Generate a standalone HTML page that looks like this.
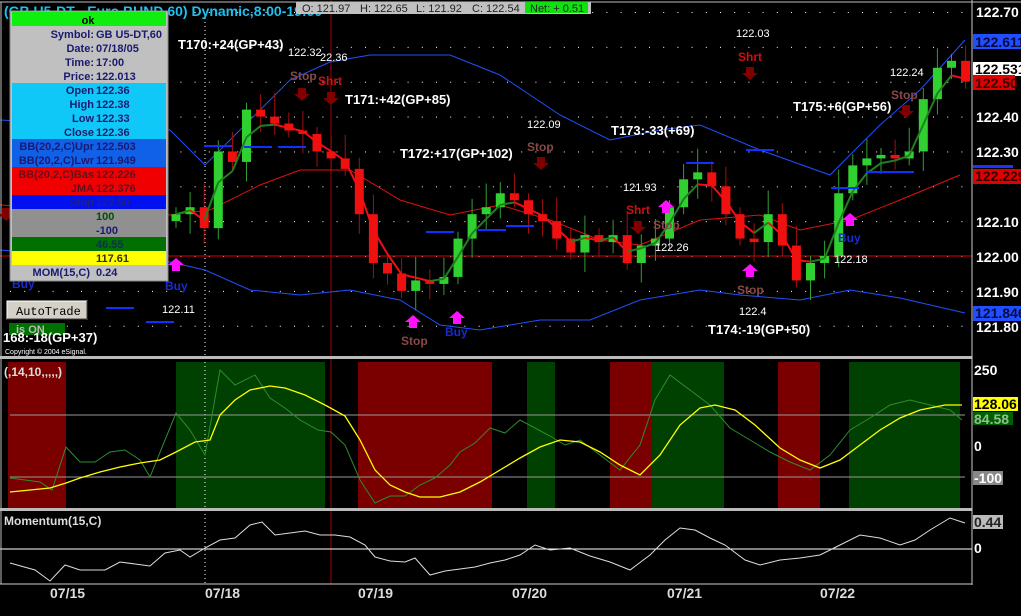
<!DOCTYPE html>
<html><head><meta charset="utf-8"><style>
html,body{margin:0;padding:0;background:#000;width:1021px;height:616px;overflow:hidden;font-family:"Liberation Sans",sans-serif}
svg{display:block}
.ax{fill:#fff;font:bold 14px "Liberation Sans",sans-serif}
.t{fill:#fff;font:bold 13px "Liberation Sans",sans-serif}
.s{fill:#fff;font:11px "Liberation Sans",sans-serif}
.ip{font:bold 11px "Liberation Sans",sans-serif;fill:#1a1a70}
</style></head><body>
<svg id="c" width="1021" height="616" viewBox="0 0 1021 616" xmlns="http://www.w3.org/2000/svg">
<rect width="1021" height="616" fill="#000"/>
<g id="grid"></g>
<g>
<rect x="8" y="362" width="58" height="146" fill="#7a0000"/>
<rect x="176" y="362" width="149" height="146" fill="#004000"/>
<rect x="358" y="362" width="134" height="146" fill="#7a0000"/>
<rect x="527" y="362" width="28" height="146" fill="#004000"/>
<rect x="610" y="362" width="42" height="146" fill="#7a0000"/>
<rect x="652" y="362" width="72" height="146" fill="#004000"/>
<rect x="778" y="362" width="42" height="146" fill="#7a0000"/>
<rect x="849" y="362" width="111" height="146" fill="#004000"/>
</g>
<line x1="0" y1="256" x2="972" y2="256" stroke="#e00000" stroke-width="1"/>
<line x1="331" y1="0" x2="331" y2="584" stroke="#a00000" stroke-width="1"/>
<line x1="205" y1="14" x2="205" y2="584" stroke="#fff" stroke-dasharray="1,3"/>
<line x1="10" y1="415" x2="965" y2="415" stroke="#999"/>
<line x1="10" y1="477" x2="965" y2="477" stroke="#999"/>
<line x1="0" y1="549" x2="972" y2="549" stroke="#fff"/>
<polyline fill="none" stroke="#2050ff" stroke-width="1" points="0,120 100,125 170,130 205,165 250,120 290,80 330,62 370,55 450,55 500,75 560,115 610,140 660,130 700,125 760,150 830,175 880,125 920,90 965,40"/>
<polyline fill="none" stroke="#2050ff" stroke-width="1" points="0,250 100,258 170,262 205,270 250,290 300,295 350,290 400,300 440,325 480,330 540,320 590,320 640,300 700,290 740,295 800,300 850,290 900,298 965,313"/>
<polyline fill="none" stroke="#e01010" stroke-width="1" points="0,205 100,210 170,215 210,210 260,185 300,170 350,170 400,200 450,215 500,205 550,220 600,240 640,245 700,220 760,215 800,230 850,220 900,200 960,175"/>
<g id="cand"></g>
<polyline fill="none" stroke="#2e8b2e" stroke-width="1" points="10,478 40,482 52,490 66,447 80,462 95,462 110,452 125,450 140,460 150,477 165,440 176,413 190,430 205,455 220,370 235,385 255,375 270,398 285,408 300,420 318,430 331,432 345,445 360,480 375,503 390,496 405,496 420,485 435,478 450,465 460,452 475,443 490,428 505,433 520,420 535,428 550,436 565,445 580,440 600,455 620,470 640,445 655,400 670,375 690,390 710,405 730,428 750,440 770,452 790,462 810,470 830,455 850,430 870,418 890,405 910,400 930,405 950,410 962,420"/>
<polyline fill="none" stroke="#ffff00" stroke-width="1.3" points="10,492 30,490 50,488 66,483 80,478 100,472 120,467 140,463 160,460 176,452 195,442 210,440 220,415 235,400 250,390 270,386 285,388 305,395 325,405 345,416 360,440 375,470 390,485 405,492 420,497 440,497 460,492 480,482 500,470 520,458 540,447 560,440 580,442 600,452 620,465 640,475 660,455 680,425 700,408 715,405 735,410 755,425 780,448 800,460 820,468 840,460 860,445 880,430 900,418 920,410 945,405 962,405"/>
<polyline fill="none" stroke="#ddd" stroke-width="1" points="10,563 35,570 50,581 65,565 80,570 105,570 120,562 135,564 150,566 165,553 180,550 190,557 205,548 220,540 235,538 250,525 262,522 275,535 290,533 305,531 320,535 335,535 350,537 365,545 375,557 390,561 405,562 415,558 430,575 445,571 460,569 475,567 490,563 505,560 520,555 535,545 550,550 570,548 590,556 610,562 630,570 650,555 665,540 680,528 695,530 710,538 725,545 745,560 760,565 780,560 800,558 820,555 840,545 860,535 880,538 900,545 915,540 930,530 950,518 965,523"/>
<rect x="0" y="356" width="972" height="3" fill="#bbb"/>
<rect x="0" y="508" width="972" height="3" fill="#bbb"/>
<line x1="972" y1="0" x2="972" y2="585" stroke="#ccc"/>
<line x1="0" y1="584" x2="972" y2="584" stroke="#ccc"/>
<line x1="0" y1="2" x2="1021" y2="2" stroke="#bbb"/>
<line x1="1" y1="2" x2="1" y2="584" stroke="#bbb"/>
<text class="ax" x="976" y="17">122.70</text>
<rect x="973" y="34" width="48" height="15" fill="#1f4fff"/><text class="ax" x="975" y="47" style="fill:#0a0a40">122.611</text>
<rect x="973" y="62" width="48" height="14" fill="#fff"/><text class="ax" x="975" y="74" style="fill:#000">122.531</text>
<rect x="973" y="75" width="42" height="15" fill="#e00000"/><text class="ax" x="975" y="88" style="fill:#300">122.50</text>
<text class="ax" x="976" y="122">122.40</text>
<text class="ax" x="976" y="157">122.30</text>
<rect x="973" y="165" width="40" height="3" fill="#2030ff"/>
<rect x="973" y="169" width="48" height="15" fill="#e00000"/><text class="ax" x="975" y="181" style="fill:#300">122.229</text>
<text class="ax" x="976" y="227">122.10</text>
<text class="ax" x="976" y="262">122.00</text>
<text class="ax" x="976" y="297">121.90</text>
<rect x="973" y="306" width="48" height="15" fill="#1f4fff"/><text class="ax" x="975" y="318" style="fill:#0a0a40">121.846</text>
<text class="ax" x="976" y="332">121.80</text>
<text class="ax" x="974" y="375">250</text>
<rect x="973" y="397" width="45" height="14" fill="#ffff00"/><text class="ax" x="974" y="409" style="fill:#000">128.06</text>
<rect x="973" y="412" width="40" height="13" fill="#006000"/><text class="ax" x="974" y="424" style="fill:#8fbf8f">84.58</text>
<text class="ax" x="974" y="451">0</text>
<rect x="973" y="471" width="30" height="14" fill="#888"/><text class="ax" x="974" y="483">-100</text>
<rect x="973" y="515" width="30" height="14" fill="#bbb"/><text class="ax" x="974" y="527" style="fill:#222">0.44</text>
<text class="ax" x="974" y="553">0</text>
<text class="ax" x="50" y="598" style="fill:#ddd">07/15</text>
<text class="ax" x="205" y="598" style="fill:#ddd">07/18</text>
<text class="ax" x="358" y="598" style="fill:#ddd">07/19</text>
<text class="ax" x="512" y="598" style="fill:#ddd">07/20</text>
<text class="ax" x="667" y="598" style="fill:#ddd">07/21</text>
<text class="ax" x="820" y="598" style="fill:#ddd">07/22</text>
<text x="4" y="16" style="fill:#20c0f0;font:bold 14px 'Liberation Sans',sans-serif">(GB U5-DT - Euro BUND,60) Dynamic,8:00-19:00</text>
<rect x="296" y="2" width="295" height="12" fill="#c0c0c0"/>
<rect x="525" y="2" width="63" height="11" fill="#10e010"/>
<text x="302" y="12" style="fill:#222;font:11px 'Liberation Sans',sans-serif">O: 121.97</text>
<text x="360" y="12" style="fill:#222;font:11px 'Liberation Sans',sans-serif">H: 122.65</text>
<text x="416" y="12" style="fill:#222;font:11px 'Liberation Sans',sans-serif">L: 121.92</text>
<text x="472" y="12" style="fill:#222;font:11px 'Liberation Sans',sans-serif">C: 122.54</text>
<text x="530" y="12" style="fill:#222;font:11px 'Liberation Sans',sans-serif">Net: + 0.51</text>
<text class="t" x="178" y="49">T170:+24(GP+43)</text>
<text class="s" x="288" y="56">122.32</text><text class="s" x="320" y="61">22.36</text>
<text class="t" x="345" y="104">T171:+42(GP+85)</text>
<text class="s" x="527" y="128">122.09</text>
<text class="t" x="400" y="158">T172:+17(GP+102)</text>
<text class="t" x="611" y="135">T173:-33(+69)</text>
<text class="s" x="736" y="37">122.03</text>
<text class="t" x="793" y="111">T175:+6(GP+56)</text>
<text class="s" x="890" y="76">122.24</text>
<text class="s" x="623" y="191">121.93</text>
<text class="s" x="655" y="251">122.26</text>
<text class="s" x="834" y="263">122.18</text>
<text class="s" x="739" y="315">122.4</text>
<text class="s" x="162" y="313">122.11</text>
<text class="t" x="708" y="334">T174:-19(GP+50)</text>
<g style="font:bold 12px 'Liberation Sans',sans-serif">
<text x="290" y="80" fill="#8a4848">Stop</text><text x="318" y="85" fill="#d01010">Shrt</text>
<text x="527" y="151" fill="#8a4848">Stop</text>
<text x="626" y="214" fill="#d01010">Shrt</text><text x="653" y="229" fill="#8a4848">Stop</text>
<text x="738" y="61" fill="#d01010">Shrt</text>
<text x="891" y="99" fill="#8a4848">Stop</text>
<text x="401" y="345" fill="#8a4848">Stop</text>
<text x="737" y="294" fill="#8a4848">Stop</text>
<text x="165" y="290" fill="#1a2ad0">Buy</text><text x="445" y="336" fill="#1a2ad0">Buy</text><text x="838" y="242" fill="#1a2ad0">Buy</text>
<text x="12" y="288" fill="#1a2ad0">Buy</text>
</g>
<g id="arr"></g>
<rect x="10" y="11" width="158" height="270" fill="#c0c0c0" stroke="#888"/>
<rect x="12" y="12" width="154" height="14" fill="#10ee10"/>
<rect x="12" y="83" width="154" height="56" fill="#10c8f8"/>
<rect x="12" y="139" width="154" height="28" fill="#1060e8"/>
<rect x="12" y="167" width="154" height="28" fill="#f00000"/>
<rect x="12" y="195" width="154" height="14" fill="#0010f0"/>
<rect x="12" y="209" width="154" height="28" fill="#909090"/>
<rect x="12" y="237" width="154" height="14" fill="#007000"/>
<rect x="12" y="251" width="154" height="14" fill="#ffff00"/>
<g class="ip">
<text x="88" y="24" text-anchor="middle" style="fill:#000">ok</text>
<text x="94" y="38" text-anchor="end">Symbol:</text><text x="96" y="38">GB U5-DT,60</text>
<text x="94" y="52" text-anchor="end">Date:</text><text x="96" y="52">07/18/05</text>
<text x="94" y="66" text-anchor="end">Time:</text><text x="96" y="66">17:00</text>
<text x="94" y="80" text-anchor="end">Price:</text><text x="96" y="80">122.013</text>
<text x="94" y="94" text-anchor="end">Open</text><text x="96" y="94">122.36</text>
<text x="94" y="108" text-anchor="end">High</text><text x="96" y="108">122.38</text>
<text x="94" y="122" text-anchor="end">Low</text><text x="96" y="122">122.33</text>
<text x="94" y="136" text-anchor="end">Close</text><text x="96" y="136">122.36</text>
<text x="94" y="150" text-anchor="end">BB(20,2,C)Upr</text><text x="96" y="150">122.503</text>
<text x="94" y="164" text-anchor="end">BB(20,2,C)Lwr</text><text x="96" y="164">121.949</text>
<text x="94" y="178" text-anchor="end" style="fill:#601020">BB(20,2,C)Bas</text><text x="96" y="178" style="fill:#601020">122.226</text>
<text x="94" y="192" text-anchor="end" style="fill:#601020">JMA</text><text x="96" y="192" style="fill:#601020">122.376</text>
<text x="94" y="206" text-anchor="end" style="fill:#202080">Stop</text><text x="96" y="206" style="fill:#202080">122.50</text>
<text x="96" y="220" style="fill:#005000">100</text>
<text x="96" y="234">-100</text>
<text x="96" y="248" style="fill:#103050">46.55</text>
<text x="96" y="262" style="fill:#303000">117.61</text>
<text x="90" y="276" text-anchor="end">MOM(15,C)</text><text x="96" y="276">0.24</text>
</g>
<rect x="7" y="301" width="80" height="18" fill="#d4d0c8" stroke="#fff"/>
<line x1="7" y1="319" x2="87" y2="319" stroke="#444"/><line x1="87" y1="301" x2="87" y2="319" stroke="#444"/>
<text x="16" y="315" style="fill:#000;font:12px 'Liberation Mono',monospace">AutoTrade</text>
<rect x="9" y="323" width="56" height="12" fill="#007000"/>
<text x="16" y="333" style="fill:#bbb;font:bold 11px 'Liberation Sans',sans-serif">is ON</text>
<text class="t" x="3" y="342">168:-18(GP+37)</text>
<text x="5" y="354" style="fill:#fff;font:7px 'Liberation Sans',sans-serif">Copyright © 2004 eSignal.</text>
<text x="4" y="376" style="fill:#ddd;font:bold 12px 'Liberation Sans',sans-serif">(,14,10,,,,,)</text>
<text x="4" y="525" style="fill:#ddd;font:bold 12px 'Liberation Sans',sans-serif">Momentum(15,C)</text>
</svg>
<script>
var NS="http://www.w3.org/2000/svg";
function el(p,t,a){var e=document.createElementNS(NS,t);for(var k in a)e.setAttribute(k,a[k]);p.appendChild(e);return e;}
function Y(p){return 12+(122.70-p)*348.6;}
var g=document.getElementById("grid");
for(var p=122.7;p>121.75;p-=0.1){for(var x=10;x<965;x+=14.2){el(g,"rect",{x:x,y:Y(p),width:1,height:1,fill:"#fff"});}}
var C=[122.12,122.14,122.08,122.30,122.27,122.42,122.40,122.38,122.36,122.35,122.30,122.28,122.25,122.12,121.98,121.95,121.90,121.93,121.92,121.94,122.05,122.12,122.14,122.18,122.16,122.12,122.10,122.05,122.01,122.06,122.04,122.06,121.98,122.03,122.05,122.14,122.22,122.24,122.20,122.12,122.05,122.04,122.12,122.03,121.93,121.98,122.00,122.18,122.26,122.28,122.29,122.28,122.30,122.45,122.54,122.56,122.50];
var cg=document.getElementById("cand");
var prev=122.10,j=[];var jm=122.12;
for(var i=0;i<C.length;i++){var x=176+i*14.1,c=C[i],o=prev;var hi=Math.max(o,c)+0.02+((i*7)%5)*0.012,lo=Math.min(o,c)-0.02-((i*3)%4)*0.012;
var col=c>=o?"#30d030":"#f01010";var wc=c>=o?"#30a030":"#a01010";
el(cg,"line",{x1:x,y1:Y(hi),x2:x,y2:Y(lo),stroke:wc});
var h=Math.max(3,Math.abs(Y(o)-Y(c)));el(cg,"rect",{x:x-4.5,y:Math.min(Y(o),Y(c)),width:9,height:h,fill:col});
jm=jm+(c-jm)*0.55;j.push([x,Y(jm)]);prev=c;}
for(var i=1;i<j.length;i++){var d=j[i][1]>j[i-1][1];el(cg,"line",{x1:j[i-1][0],y1:j[i-1][1],x2:j[i][0],y2:j[i][1],stroke:d?"#f01010":"#208020","stroke-width":2});}
[[218,146],[258,147],[292,147],[440,232],[492,230],[520,226],[700,163],[760,150],[900,172],[880,172],[845,188],[120,308],[160,322]].forEach(function(a){el(cg,"line",{x1:a[0]-14,y1:a[1],x2:a[0]+14,y2:a[1],stroke:"#1030ff","stroke-width":2});});
var ar=document.getElementById("arr");
function up(x,y){el(ar,"polygon",{points:(x)+","+y+" "+(x+8)+","+(y+7)+" "+(x+4)+","+(y+7)+" "+(x+4)+","+(y+13)+" "+(x-4)+","+(y+13)+" "+(x-4)+","+(y+7)+" "+(x-8)+","+(y+7),fill:"#ff10ff"});}
function dn(x,y){el(ar,"polygon",{points:(x)+","+(y+13)+" "+(x+8)+","+(y+6)+" "+(x+4)+","+(y+6)+" "+(x+4)+","+y+" "+(x-4)+","+y+" "+(x-4)+","+(y+6)+" "+(x-8)+","+(y+6),fill:"#800000"});}
up(176,258);up(413,315);up(457,311);up(666,200);up(750,264);up(850,213);
dn(302,88);dn(331,92);dn(541,157);dn(638,221);dn(750,67);dn(906,105);dn(6,208);
</script>
</body></html>
